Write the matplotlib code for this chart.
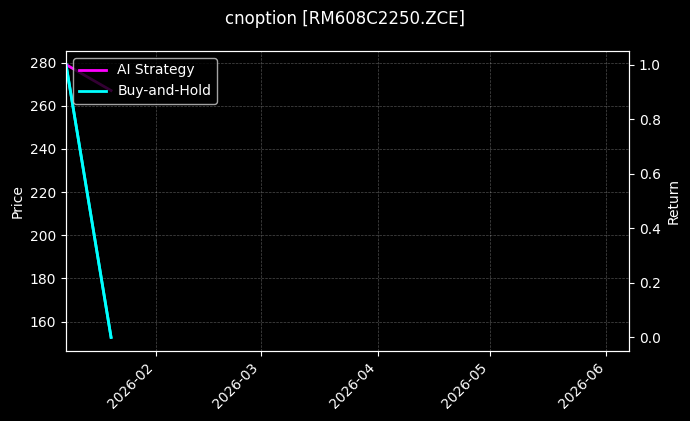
import matplotlib
matplotlib.use("Agg")
import matplotlib.pyplot as plt
import matplotlib.dates as mdates
import pandas as pd

plt.style.use("dark_background")

dates = pd.to_datetime(["2026-01-08", "2026-01-20"])
price = [279.1, 152.7]
ai_strategy = [1.0, 0.905]
buy_hold = [1.0, 0.0]
x_start = pd.Timestamp("2026-01-08")
x_end = pd.Timestamp("2026-06-07")

fig, ax1 = plt.subplots(figsize=(6.9, 4.21), dpi=100)
fig.subplots_adjust(left=0.0957, right=0.9116, top=0.8789, bottom=0.1663)

ax1.plot(dates, price, color="#00FFFF", linewidth=2)
ax1.set_ylabel("Price")
ax1.grid(True, linestyle="--", linewidth=0.5, alpha=0.3)

ax2 = ax1.twinx()
ax2.plot(dates, ai_strategy, color="#FF00FF", linewidth=2, label="AI Strategy")
ax2.plot(dates, buy_hold, color="#00FFFF", linewidth=2, label="Buy-and-Hold")
ax2.set_ylabel("Return")
ax2.set_ylim(-0.05, 1.05)

ax1.set_xlim(x_start, x_end)
ax1.xaxis.set_major_locator(mdates.MonthLocator())
ax1.xaxis.set_major_formatter(mdates.DateFormatter("%Y-%m"))
for lbl in ax1.get_xticklabels():
    lbl.set_rotation(45)
    lbl.set_ha("right")

ax2.legend(loc="upper left")
fig.suptitle("cnoption [RM608C2250.ZCE]", fontsize=12, y=0.977)

fig.savefig("out.png", dpi=100)
